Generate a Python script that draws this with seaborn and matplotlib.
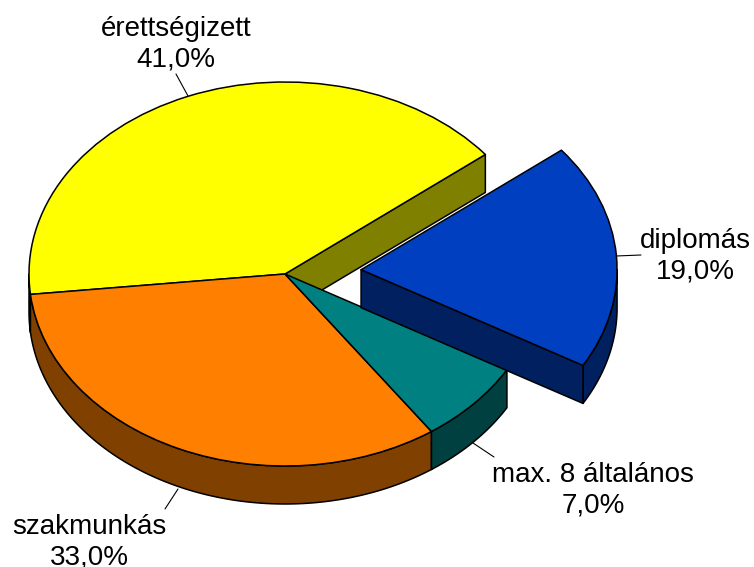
import numpy as np
import matplotlib
matplotlib.use("Agg")
import matplotlib.pyplot as plt
import seaborn as sns

# data
categories = ["érettségizett", "szakmunkás", "max. 8 általános", "diplomás"]
shares = [41.0, 33.0, 7.0, 19.0]
pull_out = [0, 0, 0, 0.298]

top_colors = sns.color_palette(["#FFFF00", "#FF8000", "#008080", "#0040C0"])
side_colors = sns.color_palette(["#808000", "#804000", "#004040", "#002060"])

sns.set_theme(style="white")
plt.rcParams["font.family"] = ["Liberation Sans", "DejaVu Sans"]

W, H = 754, 567
CX, CY, RX, RY = 285.0, 274.0, 256.0, 192.0
DEPTH = 38.0 / RY
START = 38.5
EDGE = dict(edgecolor="black", linewidth=1.1, joinstyle="round")


def px(x, y):
    return (x - CX) / RX, (CY - y) / RY


fig = plt.figure(figsize=(W / 100, H / 100), dpi=100)
ax = fig.add_axes([0, 0, 1, 1])

wedges, _ = ax.pie(shares, explode=pull_out, colors=top_colors, startangle=START,
                   radius=1.0, wedgeprops=EDGE)

edges = START + np.cumsum([0] + shares) * 3.6
for i, w in enumerate(wedges):
    a0, a1 = edges[i], edges[i + 1]
    mid = np.radians((a0 + a1) / 2)
    ox, oy = pull_out[i] * np.cos(mid), pull_out[i] * np.sin(mid)
    pulled = pull_out[i] > 0
    w.set_zorder(4 if pulled else 2)
    # outer wall: the part of the arc that faces the viewer
    lo = max(a0, 180.0)
    hi = min(a1, 360.0)
    if hi > lo:
        t = np.radians(np.linspace(lo, hi, 120))
        xs = ox + np.cos(t)
        ys = oy + np.sin(t)
        ax.fill(np.r_[xs, xs[::-1]], np.r_[ys, ys[::-1] - DEPTH],
                facecolor=side_colors[i], zorder=3 if pulled else 1, **EDGE)
    # radial wall on the leading cut of the first and the pulled slice
    if i == 0 or pulled:
        t0 = np.radians(a0)
        ex, ey = ox + np.cos(t0), oy + np.sin(t0)
        ax.fill([ox, ex, ex, ox], [oy, ey, ey - DEPTH, oy - DEPTH],
                facecolor=side_colors[i], zorder=3 if pulled else 1, **EDGE)

# labels with leader lines
label_pos = [(176, 44), (89, 542), (593, 490), (695, 256)]
leaders = [((176, 74), (188, 96)), ((165, 509), (178, 489)),
           ((494, 457), (473, 443)), ((641, 255), (616, 256))]
for name, val, pos, lead in zip(categories, shares, label_pos, leaders):
    ax.text(*px(*pos), f"{name}\n{val:.1f}%".replace(".0%", ",0%"), ha="center", va="center",
            multialignment="center", fontsize=20, color="black", linespacing=1.22, zorder=6)
    (x0, y0), (x1, y1) = px(*lead[0]), px(*lead[1])
    ax.plot([x0, x1], [y0, y1], color="black", lw=0.8, zorder=0.5)

ax.set_aspect("auto")
ax.set_xlim(*[px(0, 0)[0], px(W, 0)[0]])
ax.set_ylim(*[px(0, H)[1], px(0, 0)[1]])
ax.set_axis_off()
fig.savefig("out.png", dpi=100, facecolor="white")
